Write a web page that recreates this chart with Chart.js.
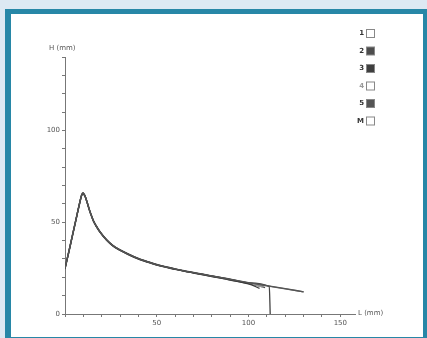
<!DOCTYPE html>
<html><head><meta charset="utf-8">
<script src="https://cdn.jsdelivr.net/npm/chart.js@4"></script>
<style>
html,body{margin:0;padding:0;background:#dde9f3;width:427px;height:338px;overflow:hidden;}
#frame{position:absolute;left:5px;top:9px;width:423px;height:333px;box-sizing:border-box;border:5px solid #2787a7;border-left-width:6px;background:#fff;}
#wrap{position:absolute;left:0;top:0;width:427px;height:338px;}
</style></head>
<body>
<div id="frame"></div>
<div id="wrap"><canvas id="c" width="427" height="338"></canvas></div>
<script>
// ---- data ----
const seriesLabels = ['1','2','3','4','5','M'];
const legendFill = ['#ffffff','#4d4d4d','#3f3f3f','#ffffff','#555555','#ffffff'];
const legendText = ['#333333','#333333','#333333','#9a9a9a','#333333','#333333'];
const xTickLabels = [50,100,150];
const yTickLabels = [0,50,100];

const L1 = [0,2,4,6,8,9,9.8,11,12,13,14,15.5,17,19,22.7,26,30,35,39,45,50,60,70,80,90,100,110,120,130];
const H1 = [24.8,33.5,42.5,51.5,60.5,64.5,65.8,64.0,61.0,57.6,54.6,50.7,47.9,44.8,40.3,37.3,34.8,32.3,30.5,28.4,26.8,24.5,22.5,20.7,18.9,17.1,15.4,13.8,12.1];

const L2 = [0,2,4,6,8,9,9.8,11,12,13,14,15.5,17,19,22.7,26,30,35,39,45,50,60,70,80,90,100,106];
const H2 = [24.5,33.2,42.2,51.2,60.2,64.3,65.5,63.8,60.8,57.4,54.4,50.5,47.7,44.6,40.1,37.1,34.6,32.1,30.3,28.2,26.6,24.3,22.3,20.4,18.5,16.4,14.0];

const L3 = [0,2,4,6,8,9,9.8,11,12,13,14,15.5,17,19,22.7,26,30,35,39,45,50,60,70,80,90,100,111.3,111.8];
const H3 = [25,33.8,42.8,51.8,60.8,64.8,66.1,64.2,61.2,57.8,54.8,50.9,48.1,45.0,40.5,37.5,35.0,32.5,30.7,28.6,27.0,24.6,22.6,20.8,19.0,17.0,15.0,0];

const L4 = [0,2,4,6,8,9,9.8,11,12,13,14,15.5,17,19,22.7,26,30,35,39,45,50,60,70,80,90,100,108];
const H4 = [24.6,33.4,42.4,51.4,60.4,64.4,65.7,63.9,60.9,57.5,54.5,50.6,47.8,44.7,40.2,37.2,34.7,32.2,30.4,28.3,26.7,24.4,22.4,20.5,18.7,16.8,14.6];

const L5 = [0,2,4,6,8,9,9.8,11,12,13,14,15.5,17,19,22.7,26,30,35,39,45,50,60,70,80,90,100,109];
const H5 = [24.9,33.6,42.6,51.6,60.6,64.6,65.9,64.1,61.1,57.7,54.7,50.8,48.0,44.9,40.4,37.4,34.9,32.4,30.6,28.5,26.9,24.5,22.4,20.6,18.6,16.6,14.4];

const LM = [0,2,4,6,8,9,9.8,11,12,13,14,15.5,17,19,22.7,26,30,35,39,45,50,60,70,80,90,100,110,120,130];
const HM = [24.8,33.5,42.5,51.5,60.5,64.5,65.8,64.0,61.0,57.6,54.6,50.7,47.9,44.8,40.3,37.3,34.8,32.3,30.5,28.4,26.8,24.5,22.5,20.7,18.9,17.0,15.3,13.7,12.0];

const seriesL = [L1,L2,L3,L4,L5,LM];
const seriesH = [H1,H2,H3,H4,H5,HM];
const lineColors = ['#555555','#3a3a3a','#444444','#9a9a9a','#4a4a4a','#666666'];

const datasets = seriesLabels.map((lab,i)=>({
  label: lab,
  data: seriesL[i].map((x,j)=>({x:x,y:seriesH[i][j]})),
  borderColor: lineColors[i],
  borderWidth: 1.3,
  pointRadius: 0,
  cubicInterpolationMode: 'monotone',
  fill: false
}));

const overlay = {
  id:'overlay',
  afterDraw(chart){
    const ctx = chart.ctx;
    const xs = chart.scales.x, ys = chart.scales.y;
    ctx.save();
    ctx.font = '7px "DejaVu Sans"';
    ctx.fillStyle = '#555';
    ctx.textBaseline = 'middle';
    ctx.textAlign = 'left';
    ctx.fillText('H (mm)', xs.getPixelForValue(0) - 16, ys.getPixelForValue(140) - 9);
    ctx.fillText('L (mm)', xs.right + 3, ys.getPixelForValue(0) - 1);
    // legend
    seriesLabels.forEach((lab,i)=>{
      const y = 33.5 + i*17.5;
      ctx.font = 'bold 7px "DejaVu Sans"';
      ctx.fillStyle = legendText[i];
      ctx.textAlign = 'right';
      ctx.fillText(lab, 364, y);
      ctx.fillStyle = legendFill[i];
      ctx.fillRect(366.5, y-4, 8, 8);
      ctx.strokeStyle = '#888';
      ctx.lineWidth = 1;
      ctx.strokeRect(366.5, y-4, 8, 8);
    });
    ctx.restore();
  }
};

function tenTicks(lo, hi){ const t=[]; for(let v=lo; v<=hi; v+=10) t.push({value:v}); return t; }

new Chart(document.getElementById('c'), {
  type:'line',
  data:{datasets},
  plugins:[overlay],
  options:{
    responsive:false,
    animation:false,
    layout:{padding:{left:0,top:57,right:72,bottom:0}},
    plugins:{legend:{display:false},tooltip:{enabled:false}},
    scales:{
      x:{
        type:'linear', min:0, max:158,
        afterFit(s){ s.height = 24; },
        afterBuildTicks(s){ s.ticks = tenTicks(0,150); },
        border:{display:true,color:'#777',width:1},
        grid:{drawOnChartArea:false,tickLength:3,color:'#777'},
        ticks:{autoSkip:false,maxRotation:0,padding:2,color:'#555',font:{family:'DejaVu Sans',size:7},
          callback:(v)=> xTickLabels.includes(v) ? String(v) : ''}
      },
      y:{
        type:'linear', min:0, max:140,
        afterFit(s){ s.width = 65; },
        afterBuildTicks(s){ s.ticks = tenTicks(0,140); },
        border:{display:true,color:'#777',width:1},
        grid:{drawOnChartArea:false,tickLength:3,color:'#777'},
        ticks:{autoSkip:false,padding:2,color:'#555',font:{family:'DejaVu Sans',size:7},
          callback:(v)=> yTickLabels.includes(v) ? String(v) : ''}
      }
    }
  }
});
</script>
</body></html>
